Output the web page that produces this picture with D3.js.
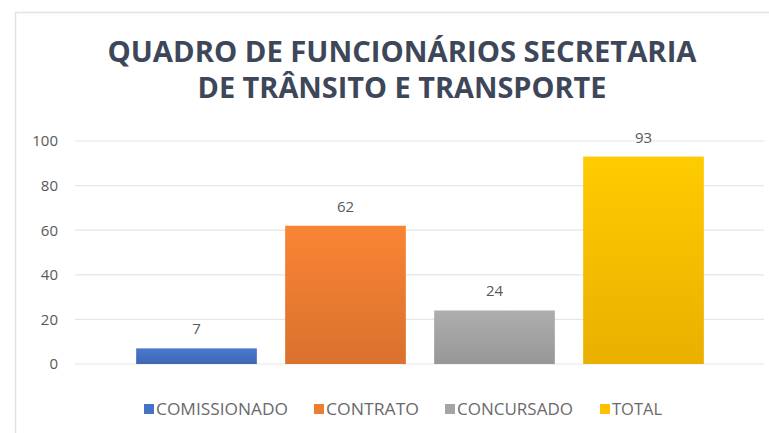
<!DOCTYPE html>
<html>
<head>
<meta charset="utf-8">
<script src="https://cdn.jsdelivr.net/npm/d3@7"></script>
<style>
  body { margin: 0; background: #fff; }
  svg { font-family: "Open Sans", "Noto Sans", sans-serif; }
</style>
</head>
<body>
<svg width="769" height="433"></svg>
<script>
// categories and values
const categories = ["COMISSIONADO", "CONTRATO", "CONCURSADO", "TOTAL"];
const values = [7, 62, 24, 93];
const colors = ["#4472C4", "#ED7D31", "#A5A5A5", "#FFC000"];
const yTicks = [0, 20, 40, 60, 80, 100];
const titleLines = ["QUADRO DE FUNCIONÁRIOS SECRETARIA", "DE TRÂNSITO E TRANSPORTE"];

const svg = d3.select("svg");

// chart frame
svg.append("path")
  .attr("d", "M15.5,433 V12.5 H769")
  .attr("fill", "none")
  .attr("stroke", "#e3e3e3")
  .attr("stroke-width", 1.5);

// gradients (lighter top, darker bottom)
const defs = svg.append("defs");
colors.forEach((c, i) => {
  const g = defs.append("linearGradient")
    .attr("id", "grad" + i)
    .attr("x1", 0).attr("y1", 0).attr("x2", 0).attr("y2", 1);
  g.append("stop").attr("offset", "0%").attr("stop-color", d3.color(c).brighter(0.15));
  g.append("stop").attr("offset", "100%").attr("stop-color", d3.color(c).darker(0.25));
});

const x = d3.scaleBand()
  .domain(categories)
  .range([122, 718])
  .paddingInner(0.19)
  .paddingOuter(0.095);

const y = d3.scaleLinear()
  .domain([0, 100])
  .range([364, 141]);

// gridlines
svg.append("g")
  .selectAll("line")
  .data(yTicks)
  .join("line")
  .attr("x1", 75)
  .attr("x2", 764)
  .attr("y1", d => y(d))
  .attr("y2", d => y(d))
  .attr("stroke", "#e6e6e6")
  .attr("stroke-width", 1.2);

// y axis labels
const yAxis = svg.append("g")
  .attr("transform", "translate(64,0)")
  .call(d3.axisLeft(y).tickValues(yTicks).tickSize(0).tickPadding(6));
yAxis.select(".domain").remove();
yAxis.selectAll("text")
  .attr("fill", "#595959")
  .attr("font-size", 15)
  .attr("font-family", "'Open Sans', sans-serif");

// title
svg.append("g")
  .selectAll("text")
  .data(titleLines)
  .join("text")
  .attr("x", 402)
  .attr("y", (d, i) => 62 + i * 36)
  .attr("text-anchor", "middle")
  .attr("font-size", 28)
  .attr("font-weight", "bold")
  .attr("fill", "#3d4759")
  .attr("textLength", (d, i) => i === 0 ? 589 : 409)
  .attr("lengthAdjust", "spacingAndGlyphs")
  .text(d => d);

// bars
svg.append("g")
  .selectAll("rect")
  .data(values)
  .join("rect")
  .attr("x", (d, i) => x(categories[i]))
  .attr("y", d => y(d))
  .attr("width", x.bandwidth())
  .attr("height", d => y(0) - y(d))
  .attr("fill", (d, i) => `url(#grad${i})`);

// value labels
svg.append("g")
  .selectAll("text")
  .data(values)
  .join("text")
  .attr("x", (d, i) => x(categories[i]) + x.bandwidth() / 2)
  .attr("y", d => y(d) - 14)
  .attr("text-anchor", "middle")
  .attr("font-size", 15)
  .attr("fill", "#595959")
  .text(d => d);

// legend
const legendX = [144, 314, 445, 600];
const legendW = [132, 93, 116, 50];
const legend = svg.append("g")
  .selectAll("g")
  .data(categories)
  .join("g")
  .attr("transform", (d, i) => `translate(${legendX[i]},409)`);

legend.append("rect")
  .attr("x", 0)
  .attr("y", -5)
  .attr("width", 10)
  .attr("height", 10)
  .attr("fill", (d, i) => colors[i]);

legend.append("text")
  .attr("x", 12)
  .attr("y", 5.5)
  .attr("font-size", 16)
  .attr("fill", "#6a6a6a")
  .attr("textLength", (d, i) => legendW[i])
  .attr("lengthAdjust", "spacingAndGlyphs")
  .text(d => d);
</script>
</body>
</html>
